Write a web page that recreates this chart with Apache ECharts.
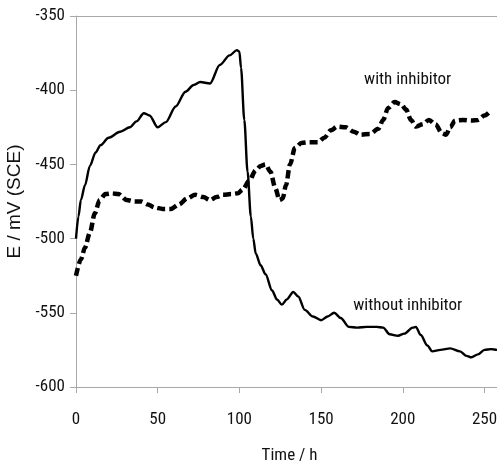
<!DOCTYPE html>
<html>
<head>
<meta charset="utf-8">
<script src="https://cdn.jsdelivr.net/npm/echarts@6/dist/echarts.min.js"></script>
<style>
  html, body { margin: 0; padding: 0; background: #fff; }
  #chart { width: 497px; height: 466px; }
</style>
</head>
<body>
<div id="chart"></div>
<script>
// Open-circuit potential vs. time, with and without inhibitor
const timeWithout = [0, 1.5, 3, 5.5, 8.5, 12, 15, 20, 27, 33, 37, 41.5, 45, 50, 55, 61, 67, 72, 76, 82, 88, 94, 98.5,
  100, 101, 103, 105, 107, 108.5, 110, 113, 116, 120, 123, 126, 129, 133, 136, 140, 145, 150, 154, 158, 162, 167,
  172, 178, 184, 188, 192, 197, 201, 206, 208, 211, 215, 218, 223, 229, 235, 239, 242, 246, 250, 254, 258, 264];
const eWithout = [-500, -485, -474, -464, -451, -442, -437, -432, -428, -425, -421, -415.5, -417, -425, -421.5, -411,
  -401, -396.5, -394.5, -395.5, -383, -376.5, -373,
  -374, -385, -420, -455, -485, -500, -510, -518, -524, -535, -541, -544.5, -541, -536, -539, -548, -552.5, -555,
  -552.5, -550, -553.5, -559.5, -560, -559.5, -559.5, -560, -564.5, -565.5, -564, -560, -559.5, -565, -572, -576,
  -575, -574, -576, -579, -580, -578, -575, -574.5, -575, -575];

const timeWith = [0, 3, 5.5, 8.5, 11.5, 14.5, 18, 22, 26, 31, 36, 40, 44, 48, 53, 58, 63, 68, 73, 78, 82, 86, 90, 95,
  99, 102, 106, 110, 113, 116, 119, 122, 124.5, 126.5, 128.5, 131, 134, 138, 143, 148, 152, 156, 160, 165, 170,
  174, 180, 185, 188, 191, 195, 199, 202, 205, 208, 212, 216, 220, 224, 226.5, 229, 232, 237, 242, 246, 250, 254];
const eWith = [-525, -514, -506, -496, -483, -474, -470, -469.5, -470, -474, -475, -475, -477, -479, -480, -480, -477,
  -473, -470.5, -472, -474, -472, -470.5, -470, -469.5, -467, -461, -454, -451, -450, -455, -466, -474, -473, -464,
  -450, -439, -435.5, -435, -435, -432, -427, -424.5, -425, -428, -430, -429.5, -426, -420, -412, -408, -409.5,
  -413, -420, -424.5, -423, -420, -423, -429, -430, -425, -420.5, -420, -420.5, -420, -417, -413.5];

const xTicks = [0, 50, 100, 150, 200, 250];
const yTicks = [-600, -550, -500, -450, -400, -350];

const seriesLabels = [
  { text: 'with inhibitor', at: [203, -393] },
  { text: 'without inhibitor', at: [203, -545.5] }
];

const zip = (xs, ys) => xs.map((x, i) => [x, ys[i]]);

const narrow = '"Roboto Condensed", "Liberation Sans Narrow", "Arial Narrow", sans-serif';
const axisGrey = '#a8a8a8';
const ink = '#111';

const chart = echarts.init(document.getElementById('chart'), null, { renderer: 'canvas' });

chart.setOption({
  animation: false,
  backgroundColor: '#ffffff',
  grid: { left: 76, right: -12, top: 16, bottom: 79, containLabel: false, outerBoundsMode: 'none' },
  xAxis: [{
    type: 'value',
    min: 0,
    max: 265,
    interval: 50,
    name: 'Time / h',
    nameLocation: 'middle',
    nameGap: 60,
    nameTextStyle: { fontFamily: narrow, fontSize: 17, color: ink, padding: [0, 6, 0, 0] },
    axisLine: { show: true, lineStyle: { color: axisGrey, width: 1 } },
    axisTick: { show: true, length: 6, lineStyle: { color: axisGrey } },
    axisLabel: {
      margin: 24, fontFamily: narrow, fontSize: 17, color: ink, showMaxLabel: false,
      formatter: v => (xTicks.indexOf(v) >= 0 ? String(v) : '')
    },
    splitLine: { show: false }
  }, {
    type: 'value',
    position: 'top',
    min: 0,
    max: 265,
    axisLine: { show: true, onZero: false, lineStyle: { color: axisGrey, width: 1 } },
    axisTick: { show: false },
    axisLabel: { show: false },
    splitLine: { show: false }
  }],
  yAxis: {
    type: 'value',
    min: -600,
    max: -350,
    interval: 50,
    name: 'E / mV (SCE)',
    nameLocation: 'middle',
    nameGap: 48,
    nameRotate: 90,
    nameTextStyle: { fontFamily: '"Liberation Sans", Arial, sans-serif', fontSize: 19, color: ink },
    axisLine: { show: true, onZero: false, lineStyle: { color: axisGrey, width: 1 } },
    axisTick: { show: true, length: 6, lineStyle: { color: axisGrey } },
    axisLabel: {
      margin: 11, fontFamily: narrow, fontSize: 17, color: ink,
      formatter: v => (yTicks.indexOf(v) >= 0 ? String(v) : '')
    },
    splitLine: { show: false }
  },
  series: [{
    name: 'without inhibitor',
    type: 'line',
    data: zip(timeWithout, eWithout),
    showSymbol: false,
    smooth: 0.3,
    smoothMonotone: 'x',
    lineStyle: { color: '#000', width: 2.4 },
    z: 3
  }, {
    name: 'with inhibitor',
    type: 'line',
    data: zip(timeWith, eWith),
    showSymbol: false,
    smooth: 0.3,
    smoothMonotone: 'x',
    lineStyle: { color: '#000', width: 4.5, type: [8, 4], cap: 'butt' },
    markPoint: {
      symbol: 'circle',
      symbolSize: 0,
      silent: true,
      label: { show: true, position: 'inside', fontFamily: narrow, fontSize: 17, color: ink },
      data: seriesLabels.map(l => ({ coord: l.at, value: l.text, label: { formatter: l.text } }))
    },
    z: 2
  }]
});
</script>
</body>
</html>
